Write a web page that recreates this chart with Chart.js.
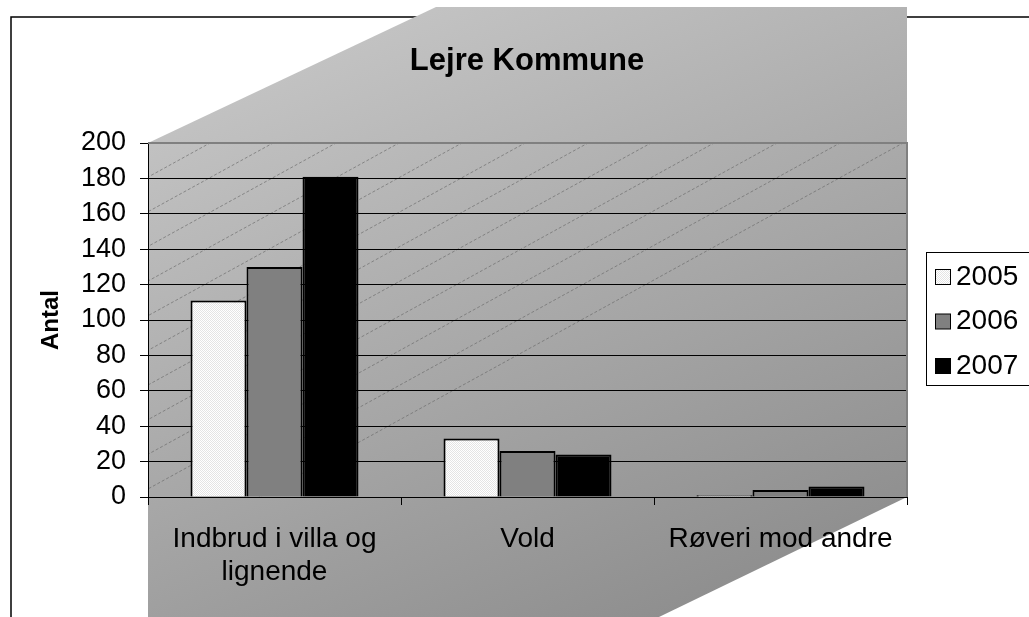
<!DOCTYPE html>
<html>
<head>
<meta charset="utf-8">
<script src="https://cdn.jsdelivr.net/npm/chart.js@4/dist/chart.umd.min.js"></script>
<style>
  body { margin: 0; background: #fff; }
  canvas { display: block; }
</style>
</head>
<body>
<canvas id="chart" width="1029" height="617"></canvas>
<script>
const chartTitle = 'Lejre Kommune';
const yTitle = 'Antal';
const categories = [['Indbrud i villa og', 'lignende'], 'Vold', 'Røveri mod andre'];
const years = ['2005', '2006', '2007'];
const values2005 = [111, 33, 1];
const values2006 = [130, 26, 4];
const values2007 = [181, 24, 6];

const FONT = '"Liberation Sans", Arial, sans-serif';

// dotted white fill like the old excel pattern
function dotPattern() {
    let c = document.createElement('canvas');
    c.width = 2; c.height = 2;
    let g = c.getContext('2d');
    g.fillStyle = '#ffffff';
    g.fillRect(0, 0, 2, 2);
    g.fillStyle = '#e4e4e4';
    g.fillRect(0, 0, 1, 1);
    g.fillRect(1, 1, 1, 1);
    return g.createPattern(c, 'repeat');
}

const ctxMain = document.getElementById('chart').getContext('2d');
const pattern2005 = dotPattern();

const backdrop = {
    id: 'backdrop',
    beforeDraw(chart) {
        const ctx = chart.ctx;
        const a = chart.chartArea;
        ctx.save();
        // outer frame
        ctx.strokeStyle = '#000';
        ctx.lineWidth = 1.5;
        ctx.beginPath();
        ctx.moveTo(1040, 17);
        ctx.lineTo(11, 17);
        ctx.lineTo(11, 630);
        ctx.stroke();
        // slanted grey backdrop
        let grad = ctx.createLinearGradient(330, 0, 610, 640);
        grad.addColorStop(0, '#c6c6c6');
        grad.addColorStop(1, '#8f8f8f');
        ctx.fillStyle = grad;
        ctx.beginPath();
        ctx.moveTo(a.left, a.top);
        ctx.lineTo(436, 7);
        ctx.lineTo(a.right, 7);
        ctx.lineTo(a.right, a.bottom);
        ctx.lineTo(a.right - 248, 617);
        ctx.lineTo(a.left, 617);
        ctx.closePath();
        ctx.fill();
        // diagonal hatch in plot area
        ctx.beginPath();
        ctx.rect(a.left, a.top, a.right - a.left, a.bottom - a.top);
        ctx.clip();
        ctx.strokeStyle = 'rgba(105,105,105,0.65)';
        ctx.lineWidth = 1;
        ctx.setLineDash([3, 2]);
        const slope = 0.55;
        for (let x = 210 - 63 * 16; x < a.right + 40; x += 63) {
            ctx.beginPath();
            ctx.moveTo(x - 900, a.top + 900 * slope);
            ctx.lineTo(x + 900, a.top - 900 * slope);
            ctx.stroke();
        }
        ctx.restore();
    },
    afterDraw(chart) {
        const ctx = chart.ctx;
        const a = chart.chartArea;
        ctx.save();
        // plot top and right border
        ctx.strokeStyle = '#808080';
        ctx.lineWidth = 2;
        ctx.beginPath();
        ctx.moveTo(a.left, a.top);
        ctx.lineTo(a.right, a.top);
        ctx.lineTo(a.right, a.bottom);
        ctx.stroke();
        // title
        ctx.fillStyle = '#000';
        ctx.font = 'bold 31px ' + FONT;
        ctx.textAlign = 'center';
        ctx.textBaseline = 'alphabetic';
        ctx.fillText(chartTitle, 527, 70);
        // legend box
        ctx.lineWidth = 1;
        ctx.strokeStyle = '#000';
        ctx.fillStyle = '#fff';
        ctx.fillRect(926.5, 252.5, 120, 133);
        ctx.strokeRect(926.5, 252.5, 120, 133);
        ctx.font = '28px ' + FONT;
        ctx.textAlign = 'left';
        ctx.textBaseline = 'middle';
        chart.data.datasets.forEach(function(ds, i) {
            let y = 277 + i * 44.5;
            ctx.fillStyle = ds.backgroundColor;
            ctx.fillRect(935.5, y - 7.5, 15, 15);
            ctx.strokeRect(935.5, y - 7.5, 15, 15);
            ctx.fillStyle = '#000';
            ctx.fillText(ds.label, 956, y);
        });
        ctx.restore();
    }
};

new Chart(ctxMain, {
    type: 'bar',
    data: {
        labels: categories,
        datasets: [{
            label: years[0],
            data: values2005,
            backgroundColor: pattern2005,
            borderColor: '#000',
            borderWidth: 2
        },
        {
            label: years[1],
            data: values2006,
            backgroundColor: '#808080',
            borderColor: '#000',
            borderWidth: 2
        },
        {
            label: years[2],
            data: values2007,
            backgroundColor: '#000000',
            borderColor: '#000',
            borderWidth: 2
        }]
    },
    options: {
        responsive: false,
        devicePixelRatio: 1,
        animation: false,
        events: [],
        layout: { padding: { left: 0, right: 122, top: 143, bottom: 0 } },
        datasets: {
            bar: { categoryPercentage: 0.664, barPercentage: 1.0 }
        },
        plugins: {
            legend: { display: false },
            title: { display: false },
            tooltip: { enabled: false }
        },
        scales: {
            x: {
                afterFit: function(scale) { scale.height = 120; },
                grid: {
                    display: true,
                    drawOnChartArea: false,
                    offset: true,
                    color: '#000',
                    tickLength: 8
                },
                border: { display: true, color: '#000', width: 1 },
                ticks: {
                    color: '#000',
                    padding: 17,
                    maxRotation: 0,
                    autoSkip: false,
                    font: { family: FONT, size: 28, lineHeight: 1.2 }
                }
            },
            y: {
                min: 0,
                max: 200,
                afterFit: function(scale) { scale.width = 148; },
                grid: {
                    color: '#000',
                    lineWidth: 1,
                    tickLength: 8
                },
                border: { display: true, color: '#000', width: 1 },
                ticks: {
                    stepSize: 20,
                    color: '#000',
                    padding: 14,
                    font: { family: FONT, size: 27 }
                },
                title: {
                    display: true,
                    text: yTitle,
                    color: '#000',
                    padding: { top: 37, bottom: 0 },
                    font: { family: FONT, size: 24, weight: 'bold' }
                }
            }
        }
    },
    plugins: [backdrop]
});
</script>
</body>
</html>
